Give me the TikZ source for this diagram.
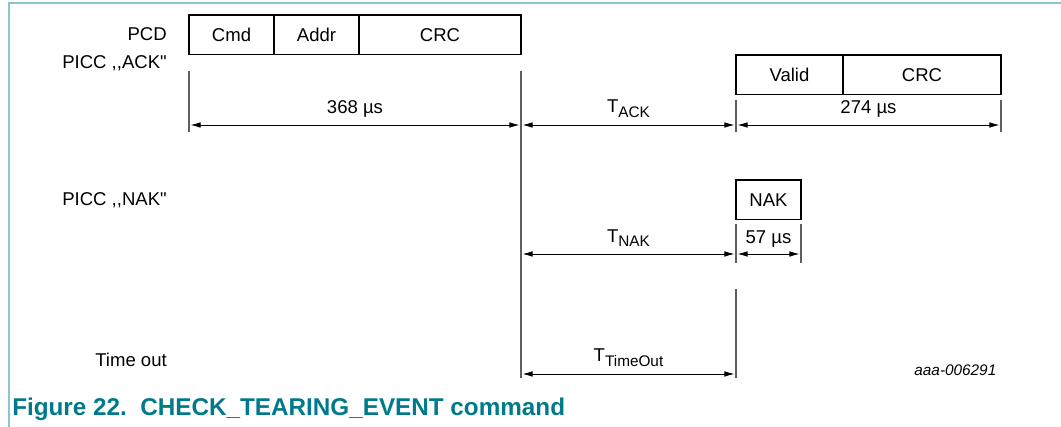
\documentclass[tikz,border=0pt]{standalone}
\usepackage{fontspec}
\setmainfont{Liberation Sans}
\usepackage{xcolor}
\usetikzlibrary{positioning, arrows.meta}

\definecolor{nxpteal}{RGB}{0,122,138}
\definecolor{framecol}{RGB}{143,196,207}
\definecolor{rulegray}{RGB}{95,95,95}

\newcommand{\tsub}[1]{T\raisebox{-0.45ex}{\fontsize{11.5}{12}\selectfont #1}}

\tikzset{
    cell/.style={draw, line width=0.9pt, minimum height=29.6pt, inner sep=0pt, outer sep=0pt},
    lane/.style={anchor=east, inner sep=0pt},
    guide/.style={draw=rulegray, line width=0.9pt},
    dim/.style={{Latex[length=7.5pt,width=4.2pt]}-{Latex[length=7.5pt,width=4.2pt]}, line width=0.6pt, shorten <=1.2pt, shorten >=1.2pt},
}

\begin{document}
\begin{tikzpicture}[x=0.75pt, y=-0.75pt, every node/.style={font=\fontsize{13.9}{16}\selectfont}]
        \useasboundingbox (0,0) rectangle (1061,427);
        \draw[framecol, line width=1.5pt] (8.5,427) -- (8.5,3.5) -- (1061,3.5);
        \coordinate (A1) at (189,71);
        \coordinate (A2) at (189,132);
        \coordinate (B1) at (521,71);
        \coordinate (B2) at (521,378);
        \coordinate (C1) at (736,100);
        \coordinate (C2) at (736,132);
        \coordinate (C3) at (736,224);
        \coordinate (C4) at (736,263);
        \coordinate (C5) at (736,289);
        \coordinate (C6) at (736,378);
        \coordinate (D1) at (1001,100);
        \coordinate (D2) at (1001,132);
        \coordinate (E1) at (801,224);
        \coordinate (E2) at (801,263);
        \coordinate (ackrow) at (0,125);
        \coordinate (nakrow) at (0,254);
        \coordinate (outrow) at (0,374);
        \node[lane] (pcd)  at (167,34)  {PCD};
        \node[lane] (ack)  at (167,63)  {PICC {,}{,}ACK\textquotedbl};
        \node[lane] (nakl) at (167,200) {PICC {,}{,}NAK\textquotedbl};
        \node[lane] (tout) at (167,360) {Time out};
        \node[cell, minimum width=63.75pt, anchor=north west] (cmd) at (189,15) {Cmd};
        \node[cell, minimum width=63.75pt, right=0pt of cmd] (addr) {Addr};
        \node[cell, minimum width=121.5pt, right=0pt of addr] (pcdcrc) {CRC};
        \node[cell, minimum width=80.25pt, anchor=north west] (valid) at (736,55) {Valid};
        \node[cell, minimum width=118.5pt, right=0pt of valid] (ackcrc) {CRC};
        \node[cell, minimum width=48.75pt, anchor=north west] (nak) at (736,180) {NAK};
        \draw[guide] (A1) -- (A2);
        \draw[guide] (B1) -- (B2);
        \draw[guide] (C1) -- (C2);
        \draw[guide] (D1) -- (D2);
        \draw[guide] (C3) -- (C4);
        \draw[guide] (E1) -- (E2);
        \draw[guide] (C5) -- (C6);
        \draw[dim] (A1 |- ackrow) -- node[above=2pt] {368 µs} (B1 |- ackrow);
        \draw[dim] (B1 |- ackrow) -- node[above=2pt] {\tsub{ACK}} (C1 |- ackrow);
        \draw[dim] (C1 |- ackrow) -- node[above=2pt] {274 µs} (D1 |- ackrow);
        \draw[dim] (B1 |- nakrow) -- node[above=2pt] {\tsub{NAK}} (C3 |- nakrow);
        \draw[dim] (C3 |- nakrow) -- node[above=1pt] {57 µs} (E1 |- nakrow);
        \draw[dim] (B1 |- outrow) -- node[above=2pt] {\tsub{TimeOut}} (C6 |- outrow);
        \node[anchor=east, font=\fontsize{11.5}{13}\selectfont\itshape] (code) at (1001,370) {aaa-006291};
        \node[anchor=west, inner sep=0pt, text=nxpteal, font=\fontsize{18.2}{20}\selectfont\bfseries] (caption) at (12,409) {Figure 22.\ \ CHECK\_TEARING\_EVENT command};
    \end{tikzpicture}
\end{document}
